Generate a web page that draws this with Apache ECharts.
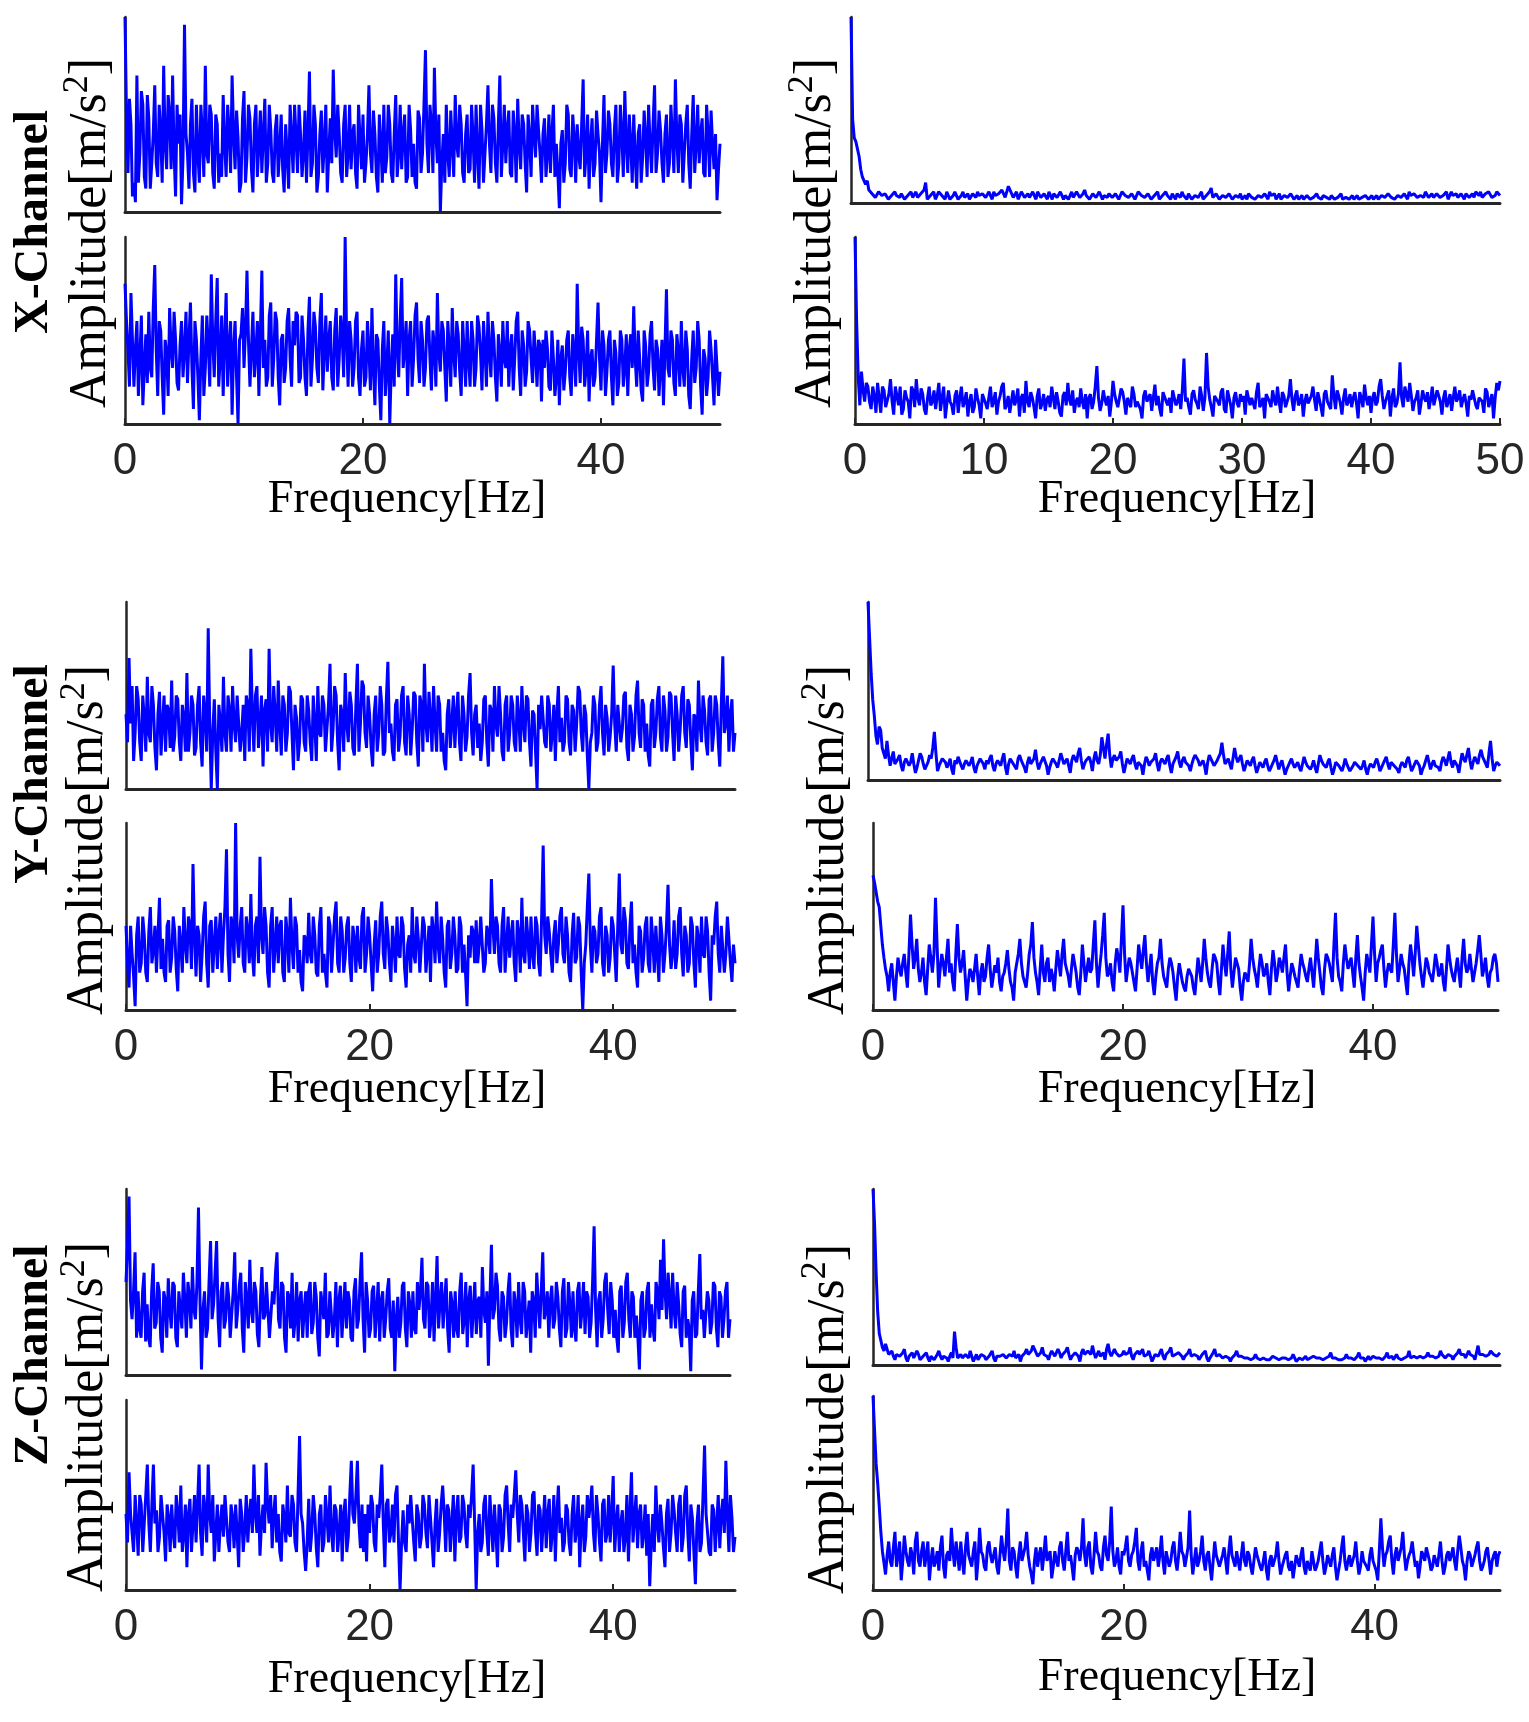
<!DOCTYPE html>
<html>
<head>
<meta charset="utf-8">
<script src="https://cdn.jsdelivr.net/npm/echarts@6/dist/echarts.min.js"></script>
<style>
  html, body { margin: 0; padding: 0; background: #fff; }
  #mybox { width: 1529px; height: 1722px; }
</style>
</head>
<body>
<div id="mybox"></div>
<script>
// frequency step of the spectra (Hz), 0..50 Hz
// each panel: values on the 0.25 Hz bins + values on the bins in between (0.125, 0.375, ...)
var freqStep = 0.25;

// tick labels
var leftTicks = [0, 20, 40];
var rightTopRowTicks = [0, 10, 20, 30, 40, 50];

// X channel, left column, top
var xLeftTop = [
  100, 20, 45, 15, 70, 30, 55, 12, 48, 25, 65, 18, 40, 75, 22, 50, 70, 8, 35, 4,
  96, 30, 45, 20, 55, 15, 40, 75, 25, 50, 12, 45, 30, 60, 18, 42, 70, 22, 38, 15,
  62, 28, 48, 10, 55, 35, 20, 58, 25, 42, 15, 50, 32, 22, 45, 12, 38, 55, 20, 40,
  30, 15, 72, 25, 45, 18, 52, 35, 10, 48, 73, 28, 40, 15, 55, 30, 22, 45, 12, 38,
  50, 25, 65, 20, 40, 10, 35, 55, 28, 45, 15, 60, 30, 22, 50, 18, 42, 35, 12, 48,
  30, 83, 20, 45, 74, 25, 0, 40, 55, 18, 35, 60, 28, 45, 15, 50, 22, 38, 55, 12,
  42, 30, 65, 20, 48, 15, 70, 35, 25, 52, 18, 40, 58, 22, 45, 10, 38, 55, 28, 42,
  15, 48, 30, 20, 55, 35, 2, 42, 25, 50, 18, 38, 45, 22, 68, 30, 12, 48, 25, 40,
  5, 60, 30, 45, 18, 55, 25, 40, 62, 20, 35, 50, 12, 45, 28, 38, 55, 20, 65, 30,
  42, 15, 50, 25, 38, 68, 20, 45, 30, 55, 12, 60, 35, 25, 48, 18, 40, 52, 22, 6, 35
];
var xLeftTopMid = [
  50, 58, 8, 5, 15, 62, 18, 60, 12, 40, 25, 55, 15, 35, 60, 22, 30, 55, 50, 28,
  40, 12, 58, 10, 30, 55, 18, 30, 55, 20, 50, 15, 18, 35, 55, 20, 40, 52, 10, 48,
  15, 55, 22, 45, 18, 52, 40, 15, 55, 20, 42, 18, 50, 10, 30, 55, 20, 38, 55, 18,
  52, 40, 18, 55, 10, 40, 20, 55, 30, 25, 42, 55, 20, 45, 18, 55, 40, 20, 55, 22,
  15, 40, 30, 52, 18, 50, 15, 20, 55, 20, 40, 18, 55, 40, 15, 55, 18, 15, 52, 20,
  55, 35, 55, 20, 40, 50, 25, 15, 30, 52, 18, 35, 55, 20, 40, 20, 55, 15, 30, 55,
  15, 45, 35, 55, 25, 45, 18, 55, 42, 20, 52, 15, 35, 50, 25, 50, 18, 40, 55, 30,
  40, 18, 50, 40, 18, 20, 35, 15, 55, 22, 50, 15, 30, 45, 18, 50, 35, 18, 52, 30,
  35, 20, 52, 25, 42, 15, 55, 18, 35, 50, 15, 28, 40, 15, 52, 18, 35, 45, 20, 52,
  25, 40, 18, 55, 20, 38, 50, 15, 45, 25, 40, 20, 55, 40, 20, 55, 18, 35, 40, 22
];

// X channel, left column, bottom
var xLeftBottom = [
  75, 40, 70, 20, 55, 35, 10, 48, 60, 25, 85, 15, 50, 5, 38, 62, 30, 45, 18, 55,
  40, 22, 65, 8, 45, 2, 58, 30, 42, 80, 25, 78, 35, 15, 70, 40, 5, 55, 0, 48,
  30, 82, 20, 60, 38, 15, 82, 45, 25, 65, 35, 55, 10, 48, 30, 62, 20, 42, 58, 25,
  45, 15, 68, 35, 52, 22, 70, 40, 28, 55, 18, 62, 35, 48, 100, 20, 45, 30, 60, 15,
  50, 25, 40, 62, 10, 45, 2, 55, 30, 0, 48, 80, 25, 78, 40, 15, 55, 35, 65, 22,
  45, 30, 58, 18, 42, 70, 28, 50, 12, 40, 62, 25, 48, 15, 38, 55, 20, 45, 30, 52,
  18, 40, 60, 25, 45, 12, 38, 55, 30, 20, 48, 35, 60, 15, 42, 28, 50, 22, 38, 45,
  12, 30, 40, 18, 35, 25, 10, 42, 28, 50, 15, 38, 75, 22, 45, 30, 12, 40, 25, 65,
  18, 42, 28, 50, 10, 38, 22, 45, 30, 15, 48, 63, 20, 35, 12, 42, 28, 55, 18, 40,
  30, 10, 72, 25, 45, 15, 38, 55, 20, 40, 8, 50, 30, 45, 5, 35, 25, 40, 10, 30, 28
];
var xLeftBottomMid = [
  55, 20, 45, 40, 15, 58, 30, 22, 30, 62, 40, 55, 25, 45, 15, 40, 60, 22, 42, 25,
  60, 45, 30, 55, 25, 35, 15, 58, 20, 45, 55, 20, 58, 45, 20, 55, 40, 25, 45, 62,
  50, 45, 40, 25, 55, 48, 30, 20, 58, 20, 60, 25, 45, 22, 55, 35, 55, 60, 22, 58,
  25, 50, 20, 60, 30, 55, 18, 58, 45, 25, 50, 20, 58, 25, 45, 55, 20, 55, 25, 40,
  20, 55, 18, 30, 48, 20, 40, 15, 50, 30, 20, 40, 55, 30, 55, 45, 20, 58, 35, 55,
  20, 55, 35, 50, 20, 38, 55, 30, 55, 20, 38, 55, 28, 55, 20, 35, 55, 20, 58, 38,
  55, 20, 38, 55, 25, 48, 20, 35, 55, 40, 18, 55, 30, 50, 20, 55, 35, 50, 20, 42,
  45, 50, 20, 50, 15, 45, 35, 18, 45, 25, 48, 20, 40, 52, 20, 50, 35, 20, 45, 35,
  50, 15, 45, 25, 45, 15, 50, 20, 48, 40, 30, 35, 50, 18, 50, 20, 48, 30, 45, 15,
  45, 40, 30, 50, 22, 48, 20, 30, 50, 15, 35, 22, 55, 20, 40, 15, 50, 25, 45, 15
];

// X channel, right column, top
var xRightTop = [
  100, 35, 32, 18, 15, 12, 8, 6, 4, 5, 3, 6, 2, 5, 4, 3, 6, 2, 5, 3,
  6, 2, 4, 11, 3, 5, 2, 6, 4, 2, 5, 3, 6, 2, 4, 3, 5, 2, 4, 6,
  3, 5, 2, 4, 6, 3, 5, 8, 4, 10, 3, 6, 2, 5, 4, 3, 6, 2, 5, 3,
  4, 6, 2, 5, 3, 7, 4, 2, 6, 3, 5, 2, 7, 4, 3, 6, 2, 5, 4, 3,
  6, 2, 5, 3, 7, 4, 2, 6, 3, 5, 4, 2, 6, 3, 5, 2, 4, 6, 3, 5,
  2, 4, 6, 3, 5, 2, 4, 3, 6, 2, 5, 8, 3, 4, 2, 5, 3, 6, 2, 4,
  5, 3, 2, 6, 4, 3, 5, 2, 4, 6, 3, 2, 5, 3, 4, 2, 5, 3, 2, 4,
  3, 5, 2, 4, 3, 2, 5, 3, 4, 2, 3, 5, 2, 4, 3, 2, 4, 3, 2, 4,
  3, 2, 4, 3, 5, 2, 4, 3, 2, 5, 3, 4, 6, 3, 5, 2, 4, 6, 3, 5,
  4, 6, 3, 5, 2, 6, 4, 3, 5, 2, 6, 4, 3, 5, 6, 2, 4, 5, 3, 6, 4
];
var xRightTopMid = [
  45, 33, 25, 14, 10, 7, 5, 3, 6, 4, 5, 2, 4, 6, 3, 5, 2, 4, 6, 4,
  3, 5, 7, 2, 4, 6, 3, 5, 3, 6, 2, 4, 5, 3, 6, 4, 2, 5, 3, 4,
  5, 3, 6, 2, 4, 5, 7, 3, 9, 5, 4, 2, 6, 3, 5, 2, 4, 6, 3, 5,
  2, 4, 5, 3, 6, 2, 5, 4, 3, 6, 3, 5, 4, 2, 5, 3, 6, 2, 4, 5,
  3, 5, 2, 6, 4, 3, 5, 2, 6, 4, 3, 5, 2, 4, 6, 3, 5, 4, 2, 4,
  5, 3, 4, 2, 6, 3, 5, 4, 2, 4, 6, 3, 5, 2, 4, 3, 5, 2, 4, 3,
  2, 4, 5, 3, 2, 4, 3, 5, 2, 4, 5, 3, 2, 4, 3, 5, 2, 4, 3, 2,
  4, 2, 3, 5, 2, 4, 3, 2, 5, 3, 4, 2, 3, 2, 4, 3, 2, 3, 4, 2,
  4, 3, 2, 4, 3, 5, 3, 2, 4, 3, 5, 2, 4, 5, 3, 4, 3, 5, 4, 3,
  5, 3, 4, 6, 3, 4, 5, 2, 4, 5, 3, 5, 6, 4, 3, 5, 6, 3, 4, 5
];

// X channel, right column, bottom
var xRightBottom = [
  100, 25, 28, 12, 20, 8, 15, 22, 6, 18, 10, 24, 5, 15, 20, 8, 14, 3, 18, 24,
  10, 16, 5, 20, 12, 8, 22, 14, 3, 18, 10, 15, 6, 20, 12, 4, 16, 9, 14, 3,
  17, 8, 20, 12, 5, 15, 22, 10, 6, 18, 13, 4, 16, 23, 9, 14, 3, 19, 11, 7,
  15, 20, 8, 12, 4, 17, 22, 10, 6, 14, 19, 8, 3, 16, 12, 31, 7, 18, 10, 4,
  23, 12, 8, 17, 5, 14, 20, 9, 13, 3, 18, 11, 7, 21, 15, 4, 16, 10, 6, 19,
  12, 8, 35, 14, 5, 18, 11, 20, 7, 38, 13, 4, 16, 10, 19, 6, 14, 3, 17, 9,
  12, 5, 19, 14, 8, 22, 11, 3, 16, 9, 13, 20, 6, 15, 10, 24, 7, 18, 12, 4,
  16, 10, 20, 7, 13, 4, 18, 11, 26, 8, 15, 5, 19, 12, 9, 17, 3, 14, 21, 10,
  6, 17, 12, 24, 8, 15, 4, 19, 11, 33, 9, 16, 22, 7, 14, 5, 18, 12, 8, 20,
  10, 15, 5, 18, 12, 7, 20, 14, 9, 16, 4, 13, 19, 8, 15, 6, 17, 10, 3, 22, 23
];
var xRightBottomMid = [
  55, 10, 18, 22, 12, 20, 6, 14, 20, 9, 16, 12, 20, 10, 5, 18, 12, 20, 9, 14,
  19, 8, 14, 10, 18, 15, 7, 20, 11, 12, 5, 18, 14, 9, 17, 12, 6, 19, 10, 16,
  11, 14, 9, 17, 12, 20, 8, 15, 12, 10, 19, 14, 6, 12, 17, 9, 15, 8, 16, 13,
  9, 14, 17, 6, 15, 10, 13, 18, 12, 9, 12, 16, 14, 8, 20, 14, 11, 13, 15, 12,
  16, 9, 19, 12, 14, 9, 16, 12, 8, 15, 12, 16, 14, 10, 8, 17, 12, 14, 18, 10,
  16, 18, 12, 9, 16, 13, 8, 15, 14, 20, 9, 15, 12, 17, 8, 18, 10, 14, 11, 16,
  15, 18, 10, 11, 17, 9, 14, 16, 12, 18, 10, 12, 17, 9, 15, 13, 15, 10, 16, 12,
  11, 15, 13, 17, 9, 16, 12, 8, 15, 18, 11, 14, 10, 16, 14, 11, 17, 9, 14, 15,
  14, 10, 20, 15, 12, 18, 14, 9, 16, 14, 20, 12, 15, 12, 18, 11, 14, 17, 13, 10,
  18, 12, 14, 9, 16, 14, 12, 18, 13, 11, 15, 18, 10, 14, 12, 19, 9, 16, 14, 18
];

// Y channel, left column, top
var yLeftTop = [
  40, 70, 55, 30, 48, 15, 38, 60, 25, 45, 10, 52, 35, 20, 42, 58, 28, 48, 15, 38,
  62, 30, 45, 22, 55, 12, 40, 86, 0, 48, 0, 35, 60, 20, 42, 55, 25, 50, 30, 15,
  45, 75, 20, 55, 35, 12, 48, 75, 25, 40, 58, 18, 45, 30, 52, 10, 38, 25, 48, 20,
  42, 15, 35, 55, 28, 45, 20, 67, 32, 50, 10, 40, 62, 25, 45, 18, 67, 35, 55, 22,
  40, 12, 50, 30, 45, 20, 68, 35, 15, 48, 28, 55, 18, 40, 32, 50, 12, 45, 67, 25,
  38, 55, 20, 45, 30, 10, 48, 35, 22, 52, 15, 40, 28, 62, 18, 45, 35, 25, 50, 12,
  42, 55, 28, 40, 15, 50, 30, 45, 20, 38, 55, 25, 48, 12, 40, 0, 32, 50, 22, 45,
  30, 15, 55, 38, 25, 48, 18, 42, 35, 52, 20, 40, 0, 30, 45, 25, 55, 18, 38, 28,
  66, 20, 45, 32, 52, 15, 40, 28, 58, 22, 45, 35, 12, 48, 30, 55, 20, 42, 28, 50,
  15, 40, 32, 55, 22, 45, 10, 38, 58, 25, 42, 18, 50, 30, 45, 12, 71, 35, 20, 48, 30
];
var yLeftTopMid = [
  25, 35, 15, 55, 25, 50, 20, 30, 55, 22, 40, 18, 50, 45, 22, 20, 50, 25, 45, 20,
  20, 50, 18, 45, 25, 50, 20, 35, 30, 20, 45, 20, 30, 50, 20, 35, 50, 20, 45, 50,
  20, 40, 50, 22, 50, 42, 20, 35, 55, 20, 35, 50, 20, 55, 30, 45, 15, 50, 25, 50,
  25, 50, 15, 30, 50, 20, 45, 20, 55, 25, 45, 20, 35, 52, 22, 45, 20, 58, 30, 50,
  22, 40, 20, 55, 18, 48, 30, 20, 45, 20, 50, 25, 50, 18, 52, 25, 50, 20, 35, 52,
  20, 35, 50, 20, 15, 40, 22, 50, 40, 25, 50, 20, 50, 30, 40, 22, 15, 48, 25, 45,
  20, 35, 55, 20, 45, 20, 50, 25, 50, 20, 35, 50, 25, 42, 20, 45, 50, 25, 50, 20,
  45, 40, 25, 20, 50, 25, 45, 20, 55, 30, 45, 18, 25, 50, 20, 45, 30, 45, 20, 40,
  35, 45, 25, 50, 22, 45, 20, 50, 30, 48, 20, 18, 45, 22, 48, 28, 50, 20, 52, 30,
  50, 20, 50, 30, 48, 25, 40, 20, 35, 50, 25, 48, 20, 50, 25, 45, 30, 50, 40, 20
];

// Y channel, left column, bottom
var yLeftBottom = [
  45, 12, 30, 2, 50, 25, 40, 15, 55, 32, 20, 60, 38, 15, 48, 28, 42, 10, 35, 55,
  25, 45, 78, 18, 40, 30, 58, 12, 48, 35, 22, 52, 40, 86, 15, 45, 100, 28, 55, 20,
  42, 62, 18, 50, 82, 30, 45, 12, 55, 35, 25, 48, 15, 40, 60, 22, 45, 32, 10, 38,
  52, 25, 40, 18, 55, 30, 12, 45, 35, 58, 20, 42, 28, 50, 15, 38, 45, 22, 55, 30,
  40, 10, 48, 30, 58, 22, 42, 15, 35, 50, 28, 45, 12, 40, 55, 25, 38, 20, 45, 32,
  15, 42, 58, 25, 38, 12, 48, 30, 40, 22, 45, 35, 2, 28, 42, 48, 35, 50, 25, 40,
  70, 30, 45, 20, 55, 35, 28, 48, 15, 40, 60, 25, 38, 50, 22, 45, 18, 88, 30, 42,
  20, 48, 35, 55, 25, 40, 15, 52, 28, 45, 0, 35, 73, 20, 42, 30, 55, 18, 40, 28,
  45, 15, 73, 30, 48, 22, 58, 35, 12, 42, 28, 50, 20, 38, 45, 15, 40, 30, 67, 22,
  48, 30, 55, 18, 40, 25, 45, 12, 38, 50, 28, 42, 5, 35, 58, 20, 45, 30, 38, 15, 25
];
var yLeftBottomMid = [
  25, 45, 18, 40, 20, 50, 20, 42, 25, 45, 40, 22, 20, 45, 20, 50, 22, 45, 20, 35,
  50, 22, 40, 45, 15, 50, 25, 45, 20, 50, 40, 20, 55, 30, 50, 25, 40, 45, 25, 50,
  25, 30, 45, 25, 40, 55, 20, 45, 20, 50, 45, 20, 50, 20, 35, 50, 20, 15, 40, 25,
  30, 50, 20, 45, 20, 20, 50, 20, 50, 25, 50, 20, 45, 25, 45, 20, 28, 50, 20, 50,
  25, 35, 20, 50, 30, 50, 25, 45, 20, 30, 50, 22, 35, 20, 30, 50, 20, 50, 20, 45,
  50, 25, 35, 50, 20, 45, 22, 50, 20, 50, 20, 20, 40, 45, 25, 25, 50, 20, 45, 30,
  45, 50, 25, 45, 20, 50, 40, 25, 48, 20, 30, 50, 22, 30, 50, 25, 50, 40, 50, 30,
  40, 25, 50, 30, 50, 20, 40, 25, 50, 20, 25, 55, 35, 45, 25, 50, 25, 45, 20, 50,
  30, 45, 35, 55, 25, 45, 25, 20, 45, 20, 45, 25, 50, 20, 30, 50, 20, 45, 35, 30,
  22, 50, 30, 45, 20, 50, 25, 45, 20, 30, 50, 20, 40, 50, 30, 45, 20, 50, 25, 35
];

// Y channel, right column, top
var yRightTop = [
  100, 60, 36, 20, 28, 15, 22, 8, 16, 10, 14, 5, 12, 8, 15, 4, 11, 13, 6, 10,
  12, 27, 5, 10, 13, 7, 12, 3, 9, 14, 6, 11, 8, 13, 4, 10, 12, 6, 9, 14,
  5, 11, 8, 15, 3, 12, 9, 6, 14, 10, 4, 13, 8, 17, 6, 11, 14, 3, 10, 12,
  7, 15, 9, 12, 4, 14, 10, 18, 6, 11, 13, 5, 16, 9, 24, 12, 26, 7, 14, 10,
  16, 4, 12, 9, 14, 6, 11, 3, 13, 8, 10, 15, 5, 12, 9, 14, 4, 11, 16, 7,
  13, 9, 5, 12, 15, 8, 11, 3, 14, 10, 7, 13, 21, 9, 12, 6, 18, 10, 14, 5,
  11, 8, 13, 4, 10, 7, 12, 5, 9, 14, 6, 11, 3, 8, 12, 7, 10, 5, 13, 8,
  6, 11, 4, 14, 9, 7, 12, 3, 10, 8, 5, 12, 7, 4, 10, 8, 6, 11, 3, 9,
  7, 12, 5, 9, 13, 6, 11, 8, 4, 10, 7, 13, 5, 9, 12, 3, 8, 14, 6, 11,
  9, 5, 13, 8, 16, 7, 12, 4, 15, 10, 18, 6, 13, 9, 17, 11, 7, 22, 5, 10, 8
];
var yRightTopMid = [
  80, 45, 25, 30, 18, 12, 14, 12, 9, 12, 8, 10, 12, 10, 9, 7, 15, 9, 8, 14,
  18, 15, 8, 12, 10, 9, 6, 11, 13, 8, 9, 12, 10, 7, 8, 12, 9, 11, 12, 8,
  9, 10, 12, 7, 9, 11, 8, 12, 11, 7, 10, 9, 12, 10, 9, 13, 8, 7, 12, 9,
  11, 12, 10, 8, 11, 12, 15, 11, 9, 12, 10, 12, 11, 14, 18, 20, 14, 12, 11, 13,
  9, 8, 11, 12, 9, 10, 8, 9, 11, 10, 12, 9, 10, 11, 12, 8, 9, 13, 10, 11,
  10, 8, 9, 14, 11, 9, 8, 10, 12, 8, 11, 15, 14, 10, 9, 12, 13, 11, 9, 8,
  10, 11, 8, 7, 9, 10, 8, 7, 11, 10, 9, 7, 6, 10, 9, 8, 7, 9, 10, 7,
  8, 7, 9, 11, 8, 10, 7, 6, 9, 7, 8, 9, 5, 8, 9, 7, 8, 6, 7, 8,
  10, 9, 7, 11, 9, 10, 8, 6, 8, 9, 11, 9, 7, 11, 8, 6, 11, 10, 9, 8,
  7, 10, 11, 12, 10, 11, 8, 10, 12, 14, 11, 10, 12, 14, 13, 9, 15, 12, 8, 9
];

// Y channel, right column, bottom
var yRightBottom = [
  72, 63, 55, 35, 22, 10, 25, 5, 28, 18, 30, 12, 51, 22, 38, 15, 28, 8, 35, 20,
  60, 12, 30, 18, 38, 25, 10, 46, 20, 32, 5, 22, 15, 30, 8, 25, 18, 35, 12, 24,
  28, 10, 20, 32, 15, 5, 25, 38, 18, 12, 30, 47, 20, 8, 35, 15, 28, 22, 10, 32,
  18, 38, 25, 12, 30, 20, 8, 35, 15, 28, 22, 48, 12, 30, 52, 18, 25, 10, 33, 20,
  56, 15, 28, 20, 10, 35, 22, 40, 15, 30, 8, 25, 38, 18, 12, 28, 20, 5, 25, 15,
  10, 22, 18, 8, 28, 15, 38, 20, 12, 30, 25, 8, 35, 18, 42, 12, 28, 22, 5, 20,
  15, 38, 22, 12, 30, 18, 25, 8, 32, 15, 28, 20, 35, 10, 25, 18, 12, 30, 22, 15,
  28, 12, 38, 20, 8, 30, 25, 15, 52, 18, 10, 35, 22, 28, 12, 40, 18, 5, 30, 20,
  50, 15, 28, 35, 12, 25, 20, 52, 15, 30, 22, 8, 35, 18, 45, 25, 12, 28, 20, 15,
  30, 18, 25, 10, 35, 22, 15, 28, 12, 38, 20, 30, 15, 25, 40, 18, 28, 12, 22, 30, 15
];
var yRightBottomMid = [
  68, 58, 45, 28, 18, 20, 15, 18, 22, 25, 20, 30, 35, 28, 22, 20, 15, 22, 28, 30,
  35, 22, 25, 28, 20, 15, 30, 28, 25, 18, 15, 20, 22, 18, 20, 15, 28, 22, 18, 20,
  15, 18, 25, 22, 12, 20, 30, 25, 15, 20, 35, 28, 15, 22, 20, 25, 15, 18, 22, 25,
  30, 25, 18, 22, 25, 12, 20, 25, 22, 20, 35, 25, 22, 40, 28, 20, 15, 25, 28, 38,
  30, 22, 25, 15, 22, 28, 32, 25, 22, 15, 18, 28, 25, 15, 22, 25, 12, 18, 20, 12,
  18, 20, 12, 18, 22, 25, 28, 15, 22, 28, 15, 22, 25, 30, 22, 20, 25, 12, 15, 18,
  25, 28, 18, 22, 25, 20, 15, 22, 25, 20, 25, 28, 20, 18, 22, 15, 22, 25, 18, 22,
  20, 25, 28, 12, 22, 28, 20, 35, 28, 15, 25, 28, 25, 20, 28, 25, 12, 20, 25, 35,
  30, 25, 32, 22, 20, 22, 35, 30, 22, 25, 15, 25, 28, 30, 35, 18, 20, 25, 18, 22,
  25, 20, 15, 22, 28, 18, 22, 20, 28, 25, 22, 22, 20, 32, 30, 22, 18, 20, 28, 25
];

// Z channel, left column, top
var zLeftTop = [
  50, 96, 30, 66, 45, 20, 55, 38, 15, 60, 28, 45, 12, 40, 52, 25, 48, 15, 35, 55,
  20, 42, 58, 30, 90, 3, 45, 25, 72, 38, 72, 15, 50, 30, 42, 20, 66, 35, 55, 12,
  40, 62, 28, 45, 15, 58, 32, 50, 20, 38, 66, 25, 48, 12, 42, 55, 30, 18, 45, 35,
  20, 50, 28, 42, 10, 38, 55, 22, 45, 30, 15, 48, 35, 25, 40, 18, 52, 30, 66, 12,
  40, 25, 48, 35, 18, 45, 30, 52, 20, 2, 42, 28, 50, 15, 38, 45, 22, 35, 63, 25,
  48, 30, 18, 64, 40, 25, 52, 12, 38, 45, 20, 55, 30, 15, 48, 35, 22, 42, 58, 28,
  5, 70, 35, 48, 18, 42, 28, 55, 15, 38, 50, 22, 45, 30, 12, 40, 55, 25, 66, 35,
  20, 48, 30, 42, 15, 52, 25, 38, 45, 18, 50, 35, 22, 42, 28, 80, 15, 45, 30, 55,
  22, 40, 35, 12, 48, 28, 55, 20, 42, 32, 3, 45, 25, 50, 38, 18, 45, 62, 73, 30,
  42, 55, 25, 38, 15, 48, 30, 2, 45, 22, 65, 35, 20, 40, 28, 48, 15, 42, 30, 50, 30
];
var zLeftTopMid = [
  70, 40, 45, 20, 25, 45, 18, 20, 45, 25, 50, 20, 45, 20, 35, 50, 20, 45, 25, 40,
  50, 25, 35, 50, 40, 35, 20, 50, 30, 55, 30, 45, 25, 50, 20, 45, 25, 48, 25, 50,
  25, 35, 50, 22, 40, 30, 50, 20, 45, 55, 30, 50, 20, 45, 25, 20, 50, 40, 20, 45,
  45, 22, 50, 20, 45, 30, 20, 45, 20, 50, 40, 20, 50, 45, 20, 45, 25, 50, 30, 50,
  20, 45, 20, 50, 40, 20, 45, 25, 40, 30, 20, 48, 25, 45, 20, 25, 50, 45, 30, 50,
  20, 50, 40, 25, 50, 40, 25, 45, 20, 25, 45, 22, 50, 40, 20, 50, 40, 20, 35, 45,
  40, 30, 55, 25, 45, 20, 45, 25, 45, 20, 30, 50, 20, 40, 45, 20, 40, 45, 30, 45,
  40, 25, 50, 25, 45, 20, 50, 20, 25, 45, 25, 50, 45, 20, 50, 35, 40, 20, 50, 35,
  50, 20, 20, 45, 20, 50, 30, 45, 20, 20, 40, 20, 45, 20, 25, 50, 30, 35, 45, 55,
  25, 35, 50, 22, 45, 20, 25, 40, 20, 45, 30, 20, 45, 22, 50, 25, 45, 20, 45, 20
];

// Z channel, left column, bottom
var zLeftBottom = [
  40, 62, 30, 50, 18, 45, 35, 66, 20, 66, 42, 28, 50, 15, 38, 45, 22, 40, 55, 30,
  12, 48, 35, 25, 66, 18, 42, 66, 30, 15, 45, 35, 28, 50, 20, 38, 45, 12, 40, 32,
  25, 48, 66, 30, 18, 45, 67, 35, 22, 50, 40, 15, 38, 55, 28, 45, 20, 81, 35, 10,
  48, 30, 40, 12, 45, 25, 38, 55, 20, 42, 30, 15, 48, 28, 68, 35, 68, 22, 20, 15,
  30, 45, 20, 38, 66, 12, 48, 30, 25, 55, 0, 42, 20, 35, 50, 15, 40, 28, 45, 22,
  38, 12, 48, 30, 55, 20, 42, 35, 15, 50, 28, 45, 22, 38, 66, 0, 40, 25, 50, 18,
  35, 45, 12, 42, 28, 55, 20, 38, 63, 25, 45, 15, 40, 30, 52, 18, 42, 35, 22, 48,
  30, 15, 55, 38, 25, 42, 18, 50, 32, 12, 45, 28, 38, 55, 20, 40, 15, 48, 30, 25,
  60, 35, 20, 42, 28, 15, 62, 38, 22, 45, 30, 18, 2, 40, 55, 25, 35, 12, 48, 30,
  42, 20, 50, 28, 55, 15, 38, 3, 45, 25, 76, 30, 18, 42, 35, 22, 48, 68, 20, 38, 28
];
var zLeftBottomMid = [
  25, 40, 20, 35, 50, 20, 50, 35, 45, 35, 20, 50, 30, 45, 20, 30, 50, 25, 20, 45,
  40, 20, 50, 45, 30, 50, 25, 40, 50, 30, 20, 45, 50, 25, 45, 22, 30, 48, 20, 50,
  40, 30, 40, 50, 35, 30, 45, 50, 40, 25, 20, 45, 25, 30, 50, 25, 50, 40, 20, 25,
  20, 50, 22, 40, 20, 50, 25, 30, 45, 20, 45, 40, 20, 50, 40, 50, 35, 45, 40, 45,
  50, 25, 45, 50, 35, 45, 25, 45, 50, 25, 25, 25, 45, 50, 25, 45, 22, 50, 30, 50,
  25, 35, 20, 45, 40, 45, 20, 50, 40, 25, 50, 30, 45, 50, 35, 30, 20, 45, 30, 50,
  20, 30, 45, 20, 50, 35, 45, 50, 40, 50, 30, 45, 20, 50, 30, 45, 20, 50, 40, 20,
  50, 40, 30, 20, 45, 25, 40, 25, 50, 35, 20, 50, 45, 30, 50, 25, 45, 25, 50, 40,
  20, 45, 35, 20, 50, 40, 25, 50, 40, 22, 45, 40, 25, 20, 35, 45, 22, 40, 20, 50,
  30, 45, 20, 50, 30, 45, 20, 35, 20, 50, 40, 20, 45, 20, 50, 40, 30, 40, 50, 20
];

// Z channel, right column, top
var zRightTop = [
  100, 52, 18, 10, 12, 6, 8, 3, 7, 4, 9, 2, 6, 4, 8, 3, 5, 7, 2, 6,
  4, 8, 3, 6, 2, 7, 19, 4, 6, 3, 5, 8, 2, 6, 4, 7, 3, 5, 8, 2,
  6, 4, 7, 3, 5, 8, 4, 2, 6, 9, 5, 11, 7, 4, 10, 6, 3, 8, 5, 9,
  4, 7, 10, 3, 6, 8, 2, 9, 5, 7, 11, 4, 8, 6, 3, 12, 5, 9, 7, 4,
  8, 5, 10, 3, 7, 6, 9, 4, 8, 2, 6, 5, 9, 3, 7, 10, 4, 6, 8, 3,
  5, 9, 4, 7, 3, 6, 8, 2, 5, 9, 4, 7, 3, 6, 2, 5, 8, 4, 6, 3,
  5, 2, 6, 4, 3, 5, 2, 4, 6, 3, 2, 5, 4, 3, 6, 2, 4, 3, 5, 2,
  4, 6, 3, 5, 2, 4, 7, 3, 5, 4, 2, 6, 3, 5, 4, 7, 3, 2, 5, 4,
  6, 3, 5, 2, 7, 4, 3, 6, 5, 2, 4, 8, 3, 6, 4, 5, 3, 7, 4, 6,
  3, 8, 5, 4, 7, 3, 6, 9, 5, 4, 8, 6, 3, 11, 5, 7, 4, 8, 6, 5, 7
];
var zRightTopMid = [
  80, 30, 14, 8, 9, 7, 5, 6, 5, 7, 4, 5, 7, 5, 6, 4, 6, 4, 5, 3,
  6, 5, 5, 4, 5, 4, 10, 5, 4, 6, 4, 5, 4, 3, 6, 5, 4, 6, 4, 5,
  5, 6, 4, 6, 5, 4, 6, 5, 7, 6, 8, 9, 5, 7, 6, 5, 6, 7, 6, 7,
  6, 8, 6, 5, 7, 5, 7, 6, 8, 6, 7, 6, 5, 7, 9, 7, 6, 7, 5, 6,
  6, 7, 5, 6, 8, 7, 5, 6, 5, 4, 7, 6, 5, 6, 8, 5, 6, 7, 5, 5,
  7, 5, 6, 5, 4, 7, 4, 4, 7, 5, 6, 4, 5, 4, 4, 6, 5, 5, 4, 4,
  3, 4, 4, 3, 4, 3, 3, 5, 4, 3, 4, 4, 3, 4, 4, 3, 3, 4, 3, 4,
  5, 4, 4, 3, 4, 5, 4, 4, 3, 3, 4, 4, 4, 3, 5, 4, 4, 3, 3, 5,
  4, 4, 3, 5, 4, 5, 4, 4, 3, 4, 5, 4, 5, 4, 5, 4, 5, 5, 5, 4,
  5, 6, 4, 6, 5, 5, 7, 6, 6, 5, 6, 5, 7, 6, 6, 5, 6, 7, 5, 6
];

// Z channel, right column, bottom
var zRightBottom = [
  100, 65, 43, 20, 8, 25, 12, 30, 18, 5, 28, 15, 22, 8, 30, 12, 25, 18, 5, 22,
  15, 10, 28, 6, 20, 32, 12, 18, 25, 8, 30, 15, 20, 5, 32, 18, 10, 25, 14, 22,
  8, 28, 15, 42, 10, 20, 6, 25, 15, 30, 12, 3, 22, 18, 10, 28, 15, 6, 20, 12,
  25, 10, 30, 18, 5, 22, 15, 37, 12, 25, 8, 30, 18, 10, 28, 15, 43, 12, 22, 8,
  18, 28, 12, 20, 32, 10, 25, 15, 5, 22, 18, 12, 28, 8, 20, 15, 25, 10, 30, 18,
  12, 41, 8, 22, 15, 28, 10, 20, 5, 25, 18, 12, 22, 8, 28, 15, 20, 10, 25, 12,
  18, 8, 22, 15, 10, 20, 5, 18, 12, 25, 8, 15, 20, 10, 6, 18, 12, 22, 8, 15,
  20, 10, 15, 25, 8, 18, 12, 22, 5, 15, 28, 10, 18, 12, 25, 8, 20, 15, 10, 22,
  15, 5, 37, 12, 20, 28, 8, 22, 15, 30, 10, 18, 25, 12, 6, 20, 15, 22, 10, 18,
  12, 25, 8, 18, 15, 22, 10, 28, 15, 5, 20, 12, 18, 25, 10, 15, 22, 8, 18, 12, 20
];
var zRightBottomMid = [
  82, 55, 30, 14, 18, 15, 22, 12, 25, 15, 20, 12, 18, 25, 15, 20, 12, 25, 15, 12,
  20, 22, 12, 18, 15, 20, 25, 10, 15, 22, 18, 12, 25, 15, 20, 12, 22, 18, 15, 12,
  18, 20, 25, 15, 22, 12, 18, 15, 22, 18, 8, 15, 12, 22, 18, 15, 20, 12, 15, 22,
  15, 20, 15, 12, 18, 20, 22, 18, 22, 12, 18, 20, 12, 22, 18, 25, 20, 15, 12, 20,
  22, 15, 18, 25, 15, 20, 12, 10, 18, 15, 22, 18, 15, 20, 12, 22, 15, 18, 20, 12,
  22, 18, 15, 12, 20, 15, 18, 12, 15, 18, 12, 18, 15, 20, 18, 12, 15, 18, 15, 20,
  12, 15, 18, 12, 15, 10, 15, 12, 18, 15, 12, 18, 12, 15, 12, 15, 18, 12, 15, 10,
  15, 12, 20, 15, 12, 15, 18, 12, 10, 22, 15, 15, 12, 18, 15, 12, 15, 12, 18, 15,
  10, 20, 22, 18, 25, 15, 18, 15, 22, 18, 15, 20, 18, 15, 12, 18, 22, 15, 12, 15,
  18, 15, 12, 20, 18, 15, 20, 22, 12, 15, 18, 15, 22, 15, 12, 20, 15, 15, 20, 18
];

//每个子图的位置和数据
var panels = [
  { data: xLeftTop,     mid: xLeftTopMid,     box: [125, 17, 595, 195],  ticks: null },
  { data: xLeftBottom,  mid: xLeftBottomMid,  box: [125, 237, 595, 187], ticks: leftTicks },
  { data: xRightTop,    mid: xRightTopMid,    box: [851, 17, 649, 186],  ticks: null },
  { data: xRightBottom, mid: xRightBottomMid, box: [855, 237, 645, 187], ticks: rightTopRowTicks },
  { data: yLeftTop,     mid: yLeftTopMid,     box: [126, 602, 609, 187], ticks: null },
  { data: yLeftBottom,  mid: yLeftBottomMid,  box: [126, 823, 609, 187], ticks: leftTicks },
  { data: yRightTop,    mid: yRightTopMid,    box: [868, 602, 632, 178], ticks: null },
  { data: yRightBottom, mid: yRightBottomMid, box: [873, 823, 625, 187], ticks: leftTicks },
  { data: zLeftTop,     mid: zLeftTopMid,     box: [126, 1189, 604, 186], ticks: null },
  { data: zLeftBottom,  mid: zLeftBottomMid,  box: [126, 1400, 609, 190], ticks: leftTicks },
  { data: zRightTop,    mid: zRightTopMid,    box: [873, 1189, 627, 176], ticks: null },
  { data: zRightBottom, mid: zRightBottomMid, box: [873, 1396, 627, 194], ticks: leftTicks }
];

var axisColor = '#262626';
var serif = '"Liberation Serif", "Times New Roman", serif';

// merge the 0.25 Hz bins and the in-between bins into one [freq, amp] list
function spectrum(p) {
  var out = [];
  for (var k = 0; k < p.data.length; k++) {
    out.push([k * freqStep, p.data[k]]);
    if (k < p.mid.length) out.push([(k + 0.5) * freqStep, p.mid[k]]);
  }
  return out;
}

var grids = [], xAxes = [], yAxes = [], seriesList = [];
panels.forEach(function (p, i) {
  grids.push({ left: p.box[0], top: p.box[1], width: p.box[2], height: p.box[3] });
  var hasTicks = !!p.ticks;
  xAxes.push({
    gridIndex: i,
    type: 'value',
    min: 0,
    max: 50,
    axisLine: { lineStyle: { color: axisColor, width: 3 } },
    splitLine: { show: false },
    axisTick: {
      show: hasTicks, inside: true, length: 6,
      customValues: p.ticks || [],
      lineStyle: { color: axisColor, width: 2 }
    },
    axisLabel: {
      show: hasTicks,
      customValues: p.ticks || [],
      color: axisColor,
      fontFamily: '"Liberation Sans", Arial, sans-serif',
      fontSize: 44,
      margin: 16
    }
  });
  yAxes.push({
    gridIndex: i,
    type: 'value',
    min: 0,
    max: 100,
    axisLine: { show: true, lineStyle: { color: axisColor, width: 2.5 } },
    axisTick: { show: false },
    axisLabel: { show: false },
    splitLine: { show: false }
  });
  seriesList.push({
    type: 'line',
    xAxisIndex: i,
    yAxisIndex: i,
    showSymbol: false,
    silent: true,
    lineStyle: { color: '#0000ff', width: 3 },
    data: spectrum(p)
  });
});

//坐标轴标题
function vText(txt, x, y, bold) {
  return {
    type: 'text', x: x, y: y, rotation: Math.PI / 2,
    style: {
      text: txt, fill: '#000', align: 'center', verticalAlign: 'middle',
      font: (bold ? 'bold 48px ' : '52px ') + serif
    }
  };
}
function ampText(x, y) {
  return {
    type: 'text', x: x, y: y, rotation: Math.PI / 2,
    style: {
      text: '{n|Amplitude[m/s}{s|2}{n|]}',
      align: 'center', verticalAlign: 'middle',
      rich: {
        n: { font: '52px ' + serif, fill: '#000' },
        s: { font: '36px ' + serif, fill: '#000', padding: [0, 0, 26, 0] }
      }
    }
  };
}
function freqText(x, y) {
  return {
    type: 'text', x: x, y: y,
    style: {
      text: 'Frequency[Hz]', fill: '#000', align: 'center', verticalAlign: 'middle',
      font: '46px ' + serif
    }
  };
}

var labels = [
  vText('X-Channel', 35, 222, true),
  ampText(91, 233),
  ampText(816, 233),
  freqText(407, 500),
  freqText(1177, 500),
  vText('Y-Channel', 35, 774, true),
  ampText(88, 840),
  ampText(829, 840),
  freqText(407, 1090),
  freqText(1177, 1090),
  vText('Z-Channel', 35, 1355, true),
  ampText(88, 1417),
  ampText(829, 1419),
  freqText(407, 1680),
  freqText(1177, 1678)
];

var mycharts = echarts.init(document.getElementById('mybox'));
mycharts.setOption({
  backgroundColor: '#fff',
  animation: false,
  grid: grids,
  xAxis: xAxes,
  yAxis: yAxes,
  series: seriesList,
  graphic: labels
});
</script>
</body>
</html>
